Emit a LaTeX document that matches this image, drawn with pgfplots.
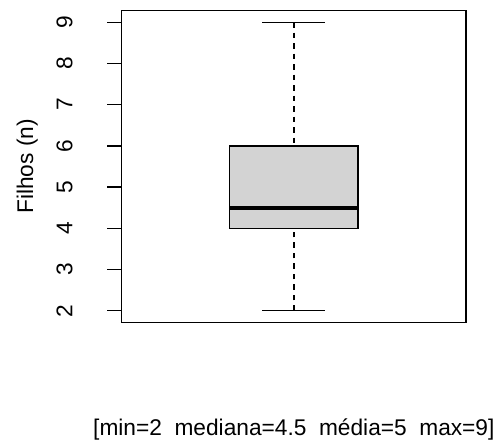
\documentclass[border=0pt]{standalone}
\usepackage{fontspec}
\setmainfont{Liberation Sans}
\usepackage{pgfplots}
\pgfplotsset{compat=1.18}
\definecolor{boxgray}{HTML}{D3D3D3}
\newcommand{\rfont}{\fontsize{22.7bp}{27bp}\selectfont}
\begin{document}
\begin{tikzpicture}[x=1bp,y=1bp]
\useasboundingbox (0,0) rectangle (498,441);
\begin{axis}[
  at={(121.7bp,118.7bp)}, anchor=south west,
  scale only axis, width=344.3bp, height=311.6bp,
  xmin=0.5, xmax=1.5, ymin=1.72, ymax=9.28,
  xtick=\empty,
  ytick={2,3,4,5,6,7,8,9},
  ytick pos=left, tick align=outside,
  major tick length=14.7bp,
  axis line style={line width=1.3bp},
  every tick/.style={black, line width=1.3bp},
  /pgf/number format/assume math mode=true,
  yticklabel style={font=\rfont, xshift=-34.7bp, rotate=90, anchor=base, inner sep=0pt},
  ylabel={Filhos (n)},
  ylabel style={font=\rfont, at={(axis description cs:-0.2576,0.5)}, anchor=base, inner sep=0pt},
  xlabel={{[min=2\ \ mediana=4.5\ \ média=5\ \ max=9]}},
  xlabel style={font=\rfont, at={(axis description cs:0.5,-0.3617)}, anchor=base, inner sep=0pt},
  clip=false,
]
% whiskers (dashed), from whisker end to quartile
\addplot[black, line width=1.3bp, dash pattern=on 5.5bp off 5bp] coordinates {(1,2) (1,4)};
\addplot[black, line width=1.3bp, dash pattern=on 5.5bp off 5bp] coordinates {(1,9) (1,6)};
% caps
\addplot[black, line width=1.3bp] coordinates {(0.9085,2) (1.0915,2)};
\addplot[black, line width=1.3bp] coordinates {(0.9085,9) (1.0915,9)};
% box Q1=4, Q3=6
\addplot[draw=black, fill=boxgray, line width=1.3bp] coordinates {(0.814,4) (1.186,4) (1.186,6) (0.814,6)} -- cycle;
% median 4.5
\addplot[black, line width=4bp, line cap=butt] coordinates {(0.814,4.5) (1.186,4.5)};
\end{axis}
\end{tikzpicture}
\end{document}
